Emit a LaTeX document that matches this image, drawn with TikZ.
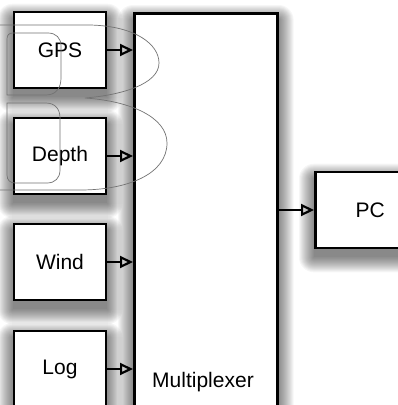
\documentclass[tikz,border=0pt]{standalone}
\usepackage{fontspec}
\setmainfont{Liberation Sans}
\usetikzlibrary{arrows.meta,calc}
\pgfdeclarelayer{bg}
\pgfdeclarelayer{shade}
\pgfsetlayers{bg,shade,main}
\newcommand{\myshadow}[1]{%
  \begin{pgfonlayer}{shade}
  \foreach \k in {15,14,...,0}{%
    \fill[black,fill opacity=0.036,rounded corners=\k pt] ($(#1.south west)+(-\k,\k+8)$) rectangle ($(#1.north east)+(\k,-\k+8)$);
  }
  \end{pgfonlayer}}
\begin{document}
\begin{tikzpicture}[x=1pt,y=-1pt,
  box/.style={draw=black,line width=2.6pt,fill=white,minimum width=92pt,minimum height=76pt,inner sep=0pt,
    font=\fontsize{21}{24}\selectfont},
  arr/.style={line width=2pt,-{Triangle[open,length=13pt,width=12pt,line width=2.2pt]}},
  ghost/.style={draw=black!55,line width=0.7pt}]
\useasboundingbox (0,0) rectangle (398,405);
\begin{pgfonlayer}{bg}\fill[white] (0,0) rectangle (398,405);\end{pgfonlayer}
\node[box,minimum width=143pt,minimum height=420pt,anchor=north west] (mux) at (133,12) {};
\node[font=\fontsize{21}{24}\selectfont] (muxlabel) at (203,382) {Multiplexer};
\node[box] (gps) at (60,50) {GPS};
\node[box] (depth) at (60,156) {Depth};
\node[box] (wind) at (60,262) {Wind};
\node[box] (log) at (60,369) {Log};
\node[box,minimum width=110pt,anchor=west] (pc) at (314,210) {PC};
\myshadow{mux}
\myshadow{gps}
\myshadow{depth}
\myshadow{wind}
\myshadow{log}
\myshadow{pc}
\draw[arr] (gps.east) -- (gps.east -| mux.west);
\draw[arr] (depth.east) -- (depth.east -| mux.west);
\draw[arr] (wind.east) -- (wind.east -| mux.west);
\draw[arr] (log.east) -- (log.east -| mux.west);
\draw[arr] (mux.east |- pc.west) -- (pc.west);
% stray B outline
\draw[ghost] (0,25) -- (90,25) .. controls (135,26) and (159,44) .. (159,63)
  .. controls (159,84) and (122,95) .. (85,98)
  .. controls (130,101) and (167,117) .. (167,143)
  .. controls (167,174) and (128,190) .. (80,190) -- (0,190);
\draw[ghost] (7,95) -- (7,39) .. controls (7,35) and (9,33) .. (13,33) -- (48,33)
  .. controls (56,33) and (61,38) .. (61,46) -- (61,78)
  .. controls (61,88) and (56,95) .. (46,95) -- cycle;
\draw[ghost] (7,103) -- (46,103) .. controls (55,103) and (60,109) .. (60,118) -- (60,170)
  .. controls (60,178) and (55,183) .. (47,183) -- (15,183)
  .. controls (10,183) and (7,180) .. (7,175) -- cycle;
\end{tikzpicture}
\end{document}
